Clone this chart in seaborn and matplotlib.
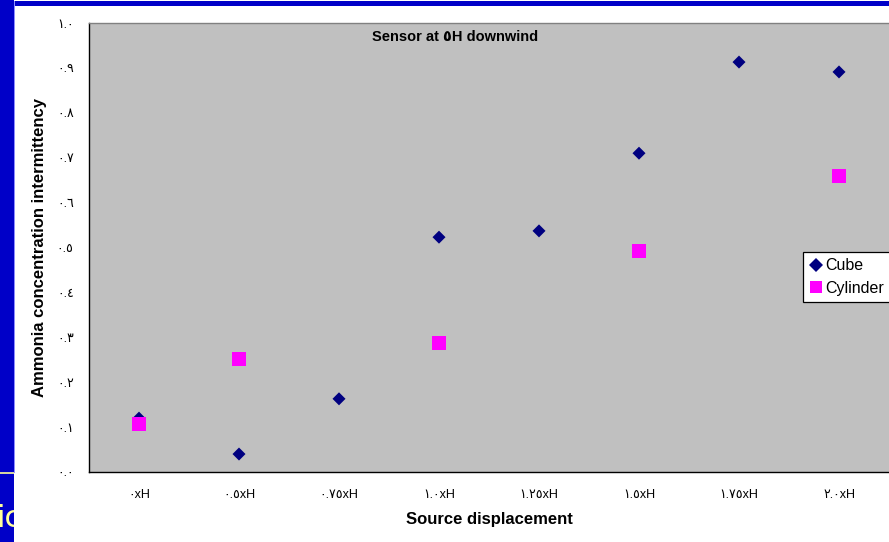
import numpy as np
import pandas as pd
import matplotlib
matplotlib.use("Agg")
import matplotlib.pyplot as plt
from matplotlib.lines import Line2D
from matplotlib.patches import Rectangle
from matplotlib.ticker import FixedLocator, FuncFormatter
import seaborn as sns

# Source positions (in building heights H) and measured intermittency
positions = ["٠xH", "٠.٥xH", "٠.٧٥xH", "١.٠xH", "١.٢٥xH", "١.٥xH", "١.٧٥xH", "٢.٠xH"]
cube = [0.12, 0.04, 0.163, 0.523, 0.537, 0.71, 0.913, 0.891]
cylinder = [0.107, 0.252, np.nan, 0.287, np.nan, 0.492, np.nan, 0.659]
series_names = ["Cube", "Cylinder"]
series_colors = {"Cube": "#000080", "Cylinder": "#FF00FF"}
series_markers = {"Cube": "D", "Cylinder": "s"}
series_sizes = {"Cube": 44, "Cylinder": 100}

df = pd.concat([
    pd.DataFrame({"position": positions, "intermittency": cube, "shape": "Cube"}),
    pd.DataFrame({"position": positions, "intermittency": cylinder, "shape": "Cylinder"}),
], ignore_index=True).dropna()

sns.set_style("white")
plt.rcParams["font.family"] = ["Liberation Sans", "DejaVu Sans"]
plt.rcParams["text.color"] = "black"
plt.rcParams["axes.labelcolor"] = "black"
plt.rcParams["xtick.color"] = "black"
plt.rcParams["ytick.color"] = "black"

W, H = 889, 542
fig = plt.figure(figsize=(W / 100, H / 100), dpi=100)
fig.patch.set_facecolor("white")

# slide decoration: blue frame bars
def px_rect(x0, y0, x1, y1, color, z=5):
    fig.patches.append(Rectangle((x0 / W, 1 - y1 / H), (x1 - x0) / W, (y1 - y0) / H,
                                 transform=fig.transFigure, facecolor=color,
                                 edgecolor="none", zorder=z))

px_rect(14, 1, W, 6, "#0000C8")

deco = fig.add_axes([0, 0, 14 / W, 1])
deco.set_facecolor("#0000C8")
deco.set_xlim(0, 14)
deco.set_ylim(H, 0)
deco.set_axis_off()
deco.add_patch(Rectangle((0, 0), 14, H, facecolor="#0000C8", edgecolor="none"))
deco.plot([0, 14], [473, 473], color="#FFFF99", lw=1.2)
deco.text(-4, 527, "ic", color="#FFFF99", fontsize=22, clip_on=True,
          ha="left", va="baseline", family=["DejaVu Sans"])
fig.patches.append(Rectangle((14 / W, 1 - 473 / H), 1.2 / W, 472 / H,
                             transform=fig.transFigure, facecolor="#8C8CFF",
                             edgecolor="none", zorder=6))

ax = fig.add_axes([89 / W, (H - 472) / H, 800 / W, 449 / H])
ax.set_facecolor("#C0C0C0")

sns.scatterplot(data=df, x="position", y="intermittency", hue="shape", style="shape",
                size="shape", hue_order=series_names, palette=series_colors,
                markers=series_markers, sizes=series_sizes, linewidth=0,
                legend=False, ax=ax, zorder=3)

ax.set_xlim(-0.5, len(positions) - 0.5)
ax.set_ylim(0, 1.0)

# category boundaries carry the ticks, labels sit at category centres
ax.xaxis.set_major_locator(FixedLocator(np.arange(-0.5, len(positions), 1.0)))
ax.xaxis.set_major_formatter(FuncFormatter(lambda v, p: ""))
ax.xaxis.set_minor_locator(FixedLocator(np.arange(len(positions))))
ax.xaxis.set_minor_formatter(FuncFormatter(lambda v, p: positions[int(round(v))]))
ax.tick_params(axis="x", which="major", direction="out", length=4, width=0.8, color="black")
ax.tick_params(axis="x", which="minor", length=0, pad=12, labelsize=9, labelcolor="black")

arabic = str.maketrans("0123456789", "٠١٢٣٤٥٦٧٨٩")
ax.yaxis.set_major_locator(FixedLocator(np.round(np.arange(0, 1.01, 0.1), 1)))
ax.yaxis.set_major_formatter(FuncFormatter(lambda v, p: f"{v:.1f}".translate(arabic)))
ax.tick_params(axis="y", direction="out", length=4, width=0.8, color="black",
               pad=7, labelsize=9, labelcolor="black")

for s in ("left", "bottom"):
    ax.spines[s].set_color("black")
    ax.spines[s].set_linewidth(1.0)
ax.spines["top"].set_color("#808080")
ax.spines["top"].set_linewidth(1.0)
ax.spines["right"].set_visible(False)

ax.set_xlabel("Source displacement", fontsize=12, fontweight="bold", color="black")
ax.xaxis.set_label_coords(0.5, (472 - 512) / 449)
ax.set_ylabel("Ammonia concentration intermittency", fontsize=12, fontweight="bold",
              color="black")
ax.yaxis.set_label_coords((47 - 89) / 800, 0.5)

ax.text((455 - 89) / 800, (472 - 37) / 449, "Sensor at ٥H downwind",
        transform=ax.transAxes, ha="center", va="center", fontsize=10.5,
        fontweight="bold", color="black")

handles = [Line2D([], [], linestyle="none", marker=series_markers[n],
                  color=series_colors[n], markeredgewidth=0,
                  markersize=7 if n == "Cube" else 9) for n in series_names]
leg = ax.legend(handles, series_names, loc="upper left",
                bbox_to_anchor=(803 / W, 1 - 252 / H), bbox_transform=fig.transFigure,
                borderaxespad=0, frameon=True, fancybox=False, fontsize=11.5,
                handlelength=0.8, handletextpad=0.2, borderpad=0.4,
                labelspacing=0.45)
for t in leg.get_texts():
    t.set_color("black")
leg.get_frame().set_edgecolor("black")
leg.get_frame().set_linewidth(0.9)
leg.get_frame().set_facecolor("white")
leg.get_frame().set_alpha(1)

fig.savefig("out.png", dpi=100)
